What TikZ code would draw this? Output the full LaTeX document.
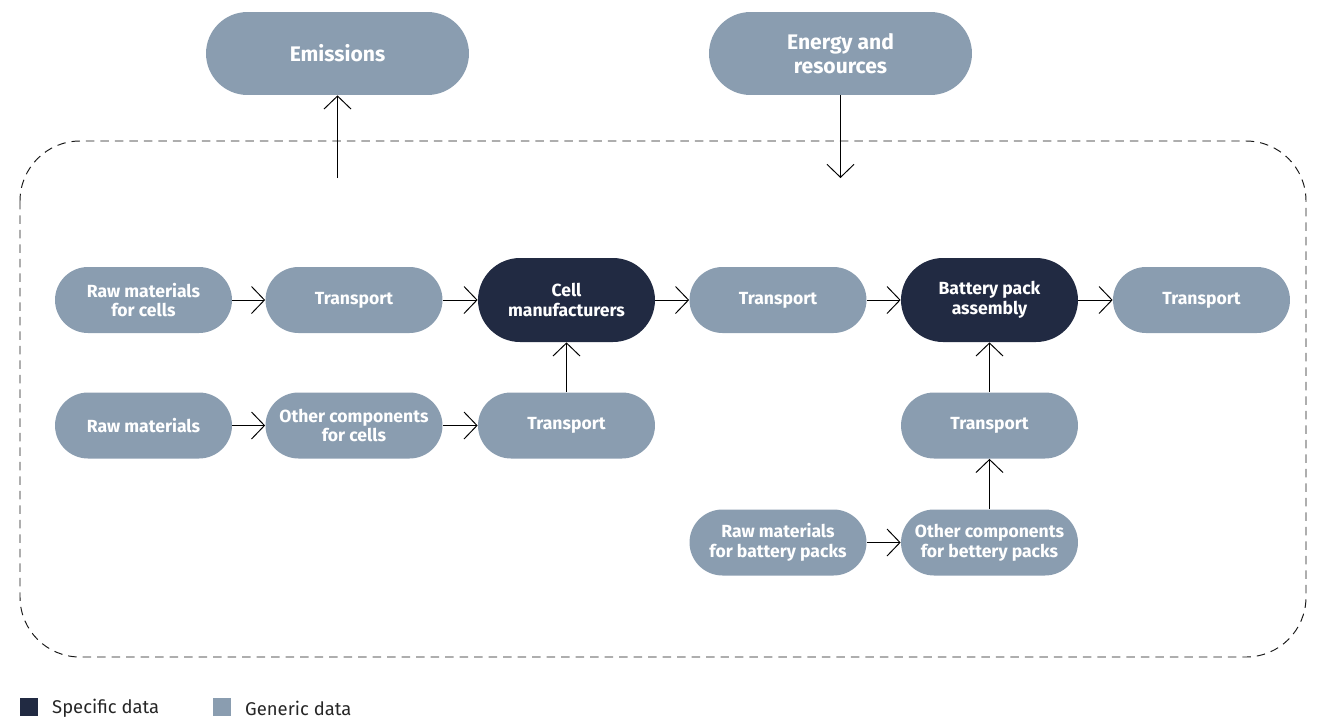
\documentclass[tikz,border=0pt]{standalone}
\usepackage{fontspec}
\setmainfont{Fira Sans}
\usetikzlibrary{arrows.meta}
\definecolor{specific}{HTML}{212A42}
\definecolor{generic}{HTML}{8A9DB0}
\tikzset{
  stage/.style={rectangle, rounded corners=0.66cm, fill=generic, text=white,
    minimum width=3.54cm, minimum height=1.32cm, align=center,
    font=\fontsize{10}{11.2}\selectfont\bfseries, inner sep=0pt},
  keystage/.style={stage, fill=specific, minimum height=1.68cm, rounded corners=0.84cm},
  outer/.style={stage, minimum width=5.26cm, minimum height=1.66cm, rounded corners=0.83cm,
    font=\fontsize{12}{13.5}\selectfont\bfseries},
  flow/.style={-{Straight Barb[length=0.26cm, width=0.54cm]}, line width=0.55pt}
}
\begin{document}
\begin{tikzpicture}[x=0.02cm, y=-0.02cm]
        \useasboundingbox (0,0) rectangle (1326,718);
        % system boundary
        \draw[dashed, dash pattern=on 0.17cm off 0.12cm, line width=0.55pt, black!90, rounded corners=1.2cm]
            (20,141) rectangle (1306,657);
        % inputs and outputs
        \node[outer] (emis) at (337.5,53.5) {Emissions};
        \node[outer] (energy) at (840.5,53.5) {Energy and\\resources};
        \coordinate (emisin) at (337.5,178);
        \coordinate (energyout) at (840.5,178);
        % cell row
        \node[stage] (rawcell) at (143.5,300) {Raw materials\\for cells};
        \node[stage] (trans1) at (354,300) {Transport};
        \node[keystage] (cell) at (566.5,300) {Cell\\manufacturers};
        \node[stage] (trans2) at (778,300) {Transport};
        \node[keystage] (pack) at (989.5,300) {Battery pack\\assembly};
        \node[stage] (trans3) at (1201.5,300) {Transport};
        % other components for cells
        \node[stage] (raw) at (143.5,425.5) {Raw materials};
        \node[stage] (othercell) at (354,425.5) {Other components\\for cells};
        \node[stage] (trans4) at (566.5,425.5) {Transport};
        % other components for battery packs
        \node[stage] (trans5) at (989.5,425.5) {Transport};
        \node[stage] (rawpack) at (778,542.5) {Raw materials\\for battery packs};
        \node[stage] (otherpack) at (989.5,542.5) {Other components\\for bettery packs};
        % connectors
        \draw[flow] (emisin) -- (emis.south);
        \draw[flow] (energy.south) -- (energyout);
        \draw[flow] (rawcell.east) -- (trans1.west);
        \draw[flow] (trans1.east) -- (cell.west);
        \draw[flow] (cell.east) -- (trans2.west);
        \draw[flow] (trans2.east) -- (pack.west);
        \draw[flow] (pack.east) -- (trans3.west);
        \draw[flow] (raw.east) -- (othercell.west);
        \draw[flow] (othercell.east) -- (trans4.west);
        \draw[flow] (trans4.north) -- (cell.south);
        \draw[flow] (rawpack.east) -- (otherpack.west);
        \draw[flow] (otherpack.north) -- (trans5.south);
        \draw[flow] (trans5.north) -- (pack.south);
        % legend
        \fill[specific] (20,698) rectangle (38,716);
        \node[anchor=west, font=\fontsize{10.5}{12}\selectfont, text=black!85] (speclab) at (46,708) {Specific data};
        \fill[generic] (213,698) rectangle (231,716);
        \node[anchor=west, font=\fontsize{10.5}{12}\selectfont, text=black!85] (genlab) at (239,708) {Generic data};
\end{tikzpicture}
\end{document}
